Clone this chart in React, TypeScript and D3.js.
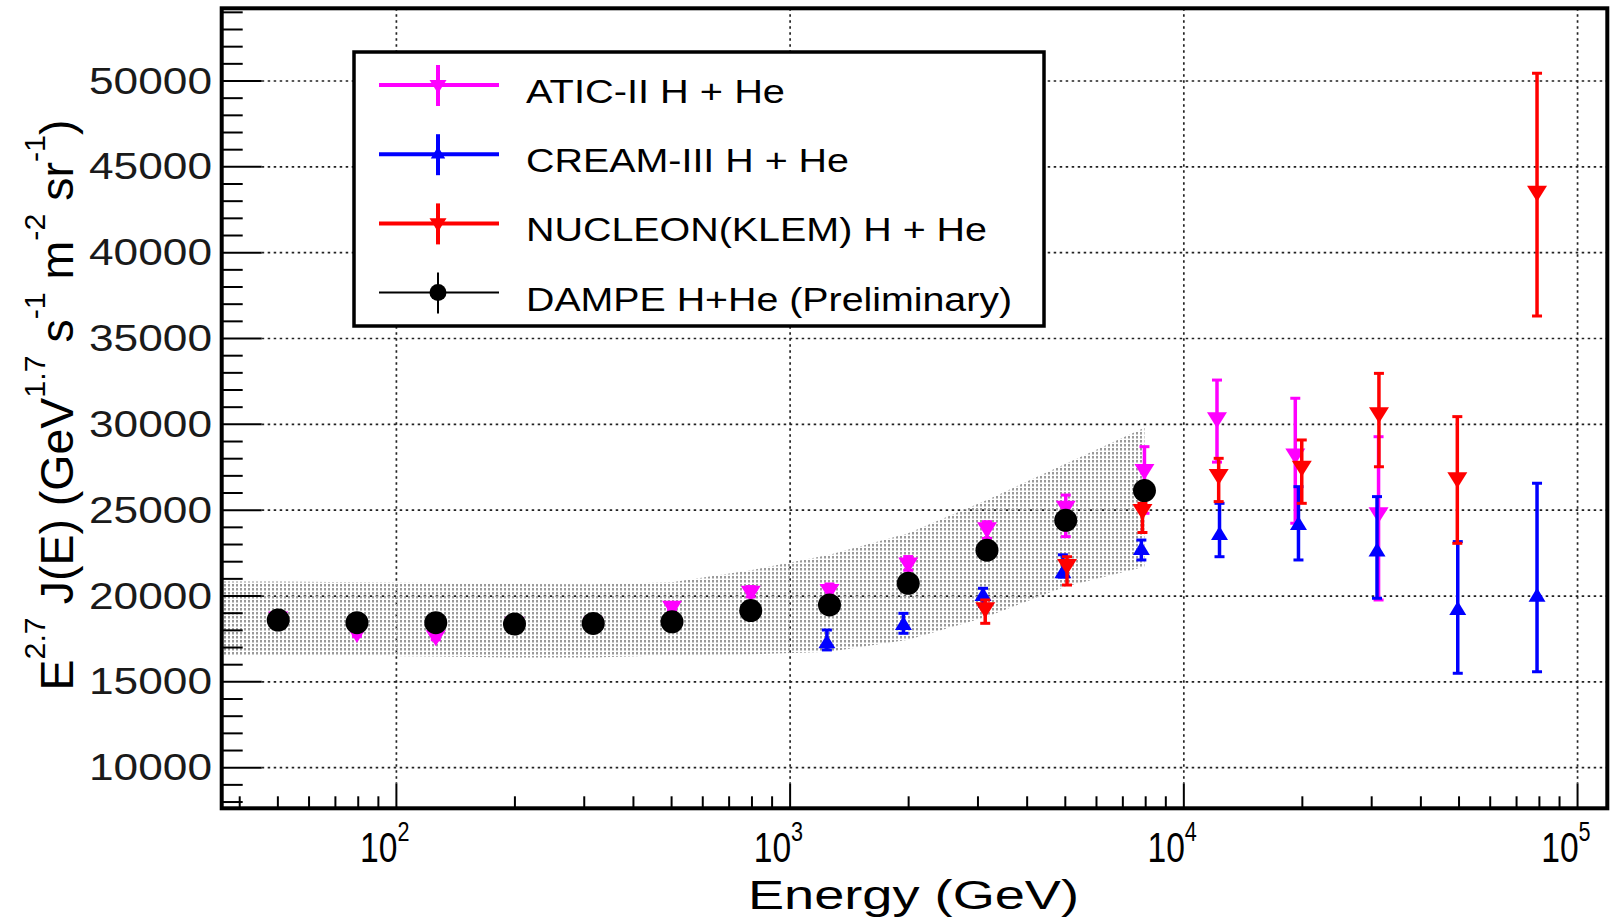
import React from 'react';
import * as d3 from 'd3';

// ---------- data ----------
const dampeEnergy = [50.1, 79.4, 125.9, 199.5, 316.2, 501.2, 794.3, 1258.9, 1995.3, 3162.3, 5011.9, 7943.3];
const dampeFlux = [18600, 18450, 18450, 18370, 18400, 18500, 19150, 19480, 20740, 22670, 24410, 26140];
const dampeLow = [18450, 18300, 18300, 18220, 18250, 18350, 18980, 19300, 20550, 22450, 24150, 25850];
const dampeHigh = [18750, 18600, 18600, 18520, 18550, 18650, 19320, 19660, 20930, 22890, 24670, 26430];

const bandEnergy = [36, 50.1, 79.4, 125.9, 199.5, 316.2, 501.2, 794.3, 1258.9, 1995.3, 3162.3, 5011.9, 7943.3];
const bandUpper = [20850, 20840, 20800, 20760, 20700, 20680, 20800, 21500, 22400, 23650, 25600, 27700, 29800];
const bandLower = [16550, 16550, 16520, 16480, 16420, 16420, 16550, 16600, 16750, 17450, 18800, 20550, 21700];

const aticEnergy = [50.1, 79.4, 125.9, 199.5, 316.2, 501.2, 794.3, 1258.9, 1995.3, 3162.3, 5011.9, 7943.3, 12140, 19190, 31230];
const aticFlux = [18750, 17850, 17650, 18450, 18450, 19380, 20250, 20350, 21900, 23950, 25200, 27340, 30350, 28240, 24820];
const aticLow = [18550, 17650, 17450, 18250, 18250, 19150, 19950, 20000, 21500, 23360, 23460, 24820, 27800, 24240, 19770];
const aticHigh = [18950, 18050, 17850, 18650, 18650, 19600, 20550, 20700, 22300, 24330, 25880, 28700, 32580, 31520, 29280];

const creamEnergy = [1240, 1940, 3090, 4930, 7800, 12320, 19550, 30950, 49630, 78900];
const creamFlux = [17250, 18310, 20000, 21320, 22680, 23560, 24140, 22590, 19190, 19960];
const creamLow = [16860, 17830, 19400, 21100, 22100, 22290, 22100, 19870, 15500, 15590];
const creamHigh = [18020, 18990, 20450, 22400, 23260, 25400, 26370, 25790, 23170, 26570];

const nucleonEnergy = [3130, 5050, 7850, 12260, 19930, 31300, 49500, 78900];
const nucleonFlux = [19290, 21810, 25010, 27050, 27530, 30640, 26860, 43550];
const nucleonLow = [18410, 20640, 23700, 25500, 25400, 27530, 23070, 36310];
const nucleonHigh = [19770, 22290, 25400, 28020, 29090, 32970, 30450, 50450];

const yTickValues = [10000, 15000, 20000, 25000, 30000, 35000, 40000, 45000, 50000];
const yTickLabels = ['10000', '15000', '20000', '25000', '30000', '35000', '40000', '45000', '50000'];
const xTickValues = [100, 1000, 10000, 100000];
const xTickExponents = ['2', '3', '4', '5'];

const legendLabels = ['ATIC-II H + He', 'CREAM-III H + He', 'NUCLEON(KLEM) H + He', 'DAMPE H+He (Preliminary)'];
const legendColors = ['#ff00ff', '#0000ff', '#ff0000', '#000000'];
const legendMarkers = ['down', 'up', 'down', 'circle'];
const legendTextLengths = [259, 323, 461, 486];

// ---------- helpers ----------
const FONT = '"Liberation Sans", Arial, Helvetica, sans-serif';

function markerPath(kind: string) {
  if (kind === 'down') return 'M-10,-6L10,-6L0,10Z';
  if (kind === 'up') return 'M-8.5,5L8.5,5L0,-9Z';
  return '';
}

function Series({ E, v, lo, hi, color, marker, x, y }: any) {
  return (
    <g>
      {E.map((e: number, i: number) => {
        const cx = x(e);
        return (
          <g key={i}>
            <line x1={cx} x2={cx} y1={y(lo[i])} y2={y(hi[i])} stroke={color} strokeWidth={3.5} />
            <line x1={cx - 5} x2={cx + 5} y1={y(lo[i])} y2={y(lo[i])} stroke={color} strokeWidth={3} />
            <line x1={cx - 5} x2={cx + 5} y1={y(hi[i])} y2={y(hi[i])} stroke={color} strokeWidth={3} />
            {marker === 'circle' ? (
              <circle cx={cx} cy={y(v[i])} r={11.5} fill={color} />
            ) : (
              <path d={markerPath(marker)} transform={`translate(${cx},${y(v[i])})`} fill={color} />
            )}
          </g>
        );
      })}
    </g>
  );
}

export default function App() {
  const W = 1620;
  const H = 919;
  const L = 221.7, R = 1607.3, T = 8.3, B = 808.3;
  const x = d3.scaleLog().domain([36, 119000]).range([L, R]);
  const y = d3.scaleLinear().domain([7635, 54235]).range([B, T]);

  const yMinor = d3.range(8000, 54001, 1000).filter((v) => v % 5000 !== 0);
  const xMinor: number[] = [];
  [10, 100, 1000, 10000].forEach((d) => {
    for (let k = 2; k <= 9; k++) {
      const v = d * k;
      if (v > 36 && v < 119000) xMinor.push(v);
    }
  });

  const band = d3
    .area<number>()
    .x((_, i) => x(bandEnergy[i]))
    .y0((_, i) => y(bandLower[i]))
    .y1((_, i) => y(bandUpper[i]))(bandEnergy);

  const gridStyle = { stroke: '#222', strokeWidth: 1.7, strokeDasharray: '2.5,3.5' };

  return (
    <svg
      width={W}
      height={H}
      style={{ position: 'absolute', left: 0, top: 0, background: '#fff' }}
      fontFamily={FONT}
    >
      <defs>
        <clipPath id="plotclip">
          <rect x={L} y={T} width={R - L} height={B - T} />
        </clipPath>
        <pattern id="bandpat" width={4} height={4} patternUnits="userSpaceOnUse">
          <rect x={0} y={0} width={2} height={2.5} fill="#9a9a9a" />
        </pattern>
      </defs>
      <rect x={0} y={0} width={W} height={H} fill="#fff" />

      {/* grid */}
      <g>
        {yTickValues.map((v) => (
          <line key={'gy' + v} x1={L + 40} x2={R} y1={y(v)} y2={y(v)} {...gridStyle} />
        ))}
        {xTickValues.map((v) => (
          <line key={'gx' + v} x1={x(v)} x2={x(v)} y1={T} y2={B - 25} {...gridStyle} />
        ))}
      </g>

      {/* band */}
      <g clipPath="url(#plotclip)">
        <path d={band || ''} fill="url(#bandpat)" />
      </g>

      {/* data */}
      <g clipPath="url(#plotclip)">
        <Series E={aticEnergy} v={aticFlux} lo={aticLow} hi={aticHigh} color="#ff00ff" marker="down" x={x} y={y} />
        <Series E={creamEnergy} v={creamFlux} lo={creamLow} hi={creamHigh} color="#0000ff" marker="up" x={x} y={y} />
        <Series E={nucleonEnergy} v={nucleonFlux} lo={nucleonLow} hi={nucleonHigh} color="#ff0000" marker="down" x={x} y={y} />
        <Series E={dampeEnergy} v={dampeFlux} lo={dampeLow} hi={dampeHigh} color="#000000" marker="circle" x={x} y={y} />
      </g>

      {/* ticks */}
      <g stroke="#000" strokeWidth={2}>
        {yTickValues.map((v) => (
          <line key={'ty' + v} x1={L} x2={L + 40} y1={y(v)} y2={y(v)} />
        ))}
        {yMinor.map((v) => (
          <line key={'tym' + v} x1={L} x2={L + 21} y1={y(v)} y2={y(v)} />
        ))}
        {xTickValues.map((v) => (
          <line key={'tx' + v} x1={x(v)} x2={x(v)} y1={B} y2={B - 25} />
        ))}
        {xMinor.map((v) => (
          <line key={'txm' + v} x1={x(v)} x2={x(v)} y1={B} y2={B - 12} />
        ))}
      </g>

      {/* frame */}
      <rect x={L} y={T} width={R - L} height={B - T} fill="none" stroke="#000" strokeWidth={4} />

      {/* y tick labels */}
      <g fontSize={36} fill="#1a1a1a">
        {yTickValues.map((v, i) => (
          <text key={'yl' + v} x={212} y={y(v) + 12.5} textAnchor="end" textLength={123} lengthAdjust="spacingAndGlyphs">
            {yTickLabels[i]}
          </text>
        ))}
      </g>

      {/* x tick labels: 10^n as one text, horizontally condensed */}
      <g fill="#000">
        {xTickValues.map((v, i) => (
          <g key={'xl' + v} transform={`translate(${x(v) + 1},862) scale(0.8,1)`}>
            <text x={-46.7} y={0} fontSize={42}>
              <tspan>10</tspan>
              <tspan dy={-21} fontSize={27}>{xTickExponents[i]}</tspan>
            </text>
          </g>
        ))}
      </g>

      {/* x title */}
      <text x={913.5} y={909} fontSize={40} textAnchor="middle" textLength={331} lengthAdjust="spacingAndGlyphs">
        Energy (GeV)
      </text>

      {/* y title */}
      <text
        transform="translate(73,405) rotate(-90)"
        fontSize={46}
        textAnchor="middle"
        textLength={571}
        lengthAdjust="spacingAndGlyphs"
      >
        <tspan>E</tspan>
        <tspan dy={-28} fontSize={30}>2.7</tspan>
        <tspan dy={28}> J(E) (GeV</tspan>
        <tspan dy={-28} fontSize={30}>1.7</tspan>
        <tspan dy={28}> s</tspan>
        <tspan dy={-28} fontSize={30}>-1</tspan>
        <tspan dy={28}> m</tspan>
        <tspan dy={-28} fontSize={30}>-2</tspan>
        <tspan dy={28}> sr</tspan>
        <tspan dy={-28} fontSize={30}>-1</tspan>
        <tspan dy={28}>)</tspan>
      </text>

      {/* legend */}
      <g>
        <rect x={354} y={52} width={690} height={274} fill="#fff" stroke="#000" strokeWidth={3.5} />
        {legendLabels.map((lab, i) => {
          const ly = 85 + i * 69.2;
          const c = legendColors[i];
          const thick = legendMarkers[i] === 'circle' ? 2 : 4;
          return (
            <g key={'lg' + i}>
              <line x1={379} x2={499} y1={ly} y2={ly} stroke={c} strokeWidth={thick} />
              <line x1={438} x2={438} y1={ly - 20} y2={ly + 21} stroke={c} strokeWidth={thick} />
              {legendMarkers[i] === 'circle' ? (
                <circle cx={438} cy={ly} r={8.5} fill={c} />
              ) : (
                <path d={markerPath(legendMarkers[i])} transform={`translate(438,${ly}) scale(0.85)`} fill={c} />
              )}
              <text x={526} y={ly + 18} fontSize={34} textLength={legendTextLengths[i]} lengthAdjust="spacingAndGlyphs">
                {lab}
              </text>
            </g>
          );
        })}
      </g>
    </svg>
  );
}
